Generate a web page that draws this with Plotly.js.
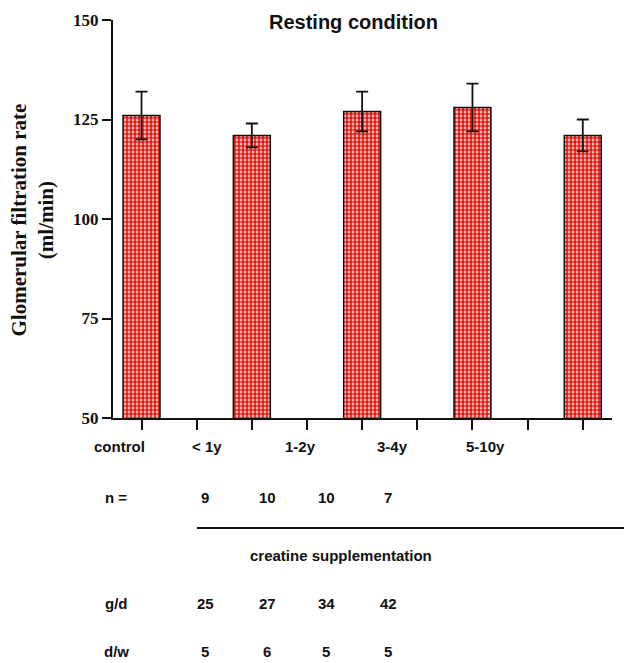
<!DOCTYPE html>
<html>
<head>
<meta charset="utf-8">
<script src="https://cdn.plot.ly/plotly-3.0.1.min.js"></script>
<style>html,body{margin:0;padding:0;background:#fff;}#chart{width:624px;height:663px;}</style>
</head>
<body>
<div id="chart"></div>
<script>
// ---- data ----
const categories = ['control', '< 1y', '1-2y', '3-4y', '5-10y'];
const gfr = [126, 121, 127, 128, 121];
const gfrErr = [6, 3, 5, 6, 4];
const yTicks = [50, 75, 100, 125, 150];
const nLabel = 'n =';
const nValues = ['9', '10', '10', '7'];
const doseLabel = 'g/d';
const doseValues = ['25', '27', '34', '42'];
const freqLabel = 'd/w';
const freqValues = ['5', '6', '5', '5'];
const groupLabel = 'creatine supplementation';
const titleText = 'Resting condition';
const yTitle = 'Glomerular filtration rate<br>(ml/min)';

// ---- layout helpers ----
const W = 624, H = 663;
const L = 113, R = 612, T = 20, B = 418;
const px = x => (x - L) / (R - L);
const py = y => (B - y) / (B - T);
const barPos = categories.map((_, i) => 2 * i);
const catLabelPx = [119, 207, 300, 392, 485];
const colPx = [205, 267, 326, 388];

const sans = 'Liberation Sans, Arial, sans-serif';
const serif = 'Liberation Serif, Times New Roman, serif';
const lblSize = 15;

const trace = {
  type: 'bar',
  x: barPos,
  y: gfr,
  base: 0,
  width: 0.67,
  marker: {
    color: '#ffffff',
    line: {color: '#111', width: 1.5},
    pattern: {shape: '.', fgcolor: '#e8150f', bgcolor: '#ffffff', size: 4, solidity: 0.7, fillmode: 'replace'}
  },
  error_y: {type: 'data', array: gfrErr, visible: true, color: '#111', thickness: 1.8, width: 6},
  hoverinfo: 'skip'
};

const ann = [];
ann.push({text: '<b>' + titleText + '</b>', xref: 'paper', yref: 'paper', x: px(353.5), y: py(22),
  xanchor: 'center', yanchor: 'middle', showarrow: false, font: {family: sans, size: 20, color: '#111'}});
ann.push({text: '<b>' + yTitle + '</b>', xref: 'paper', yref: 'paper', x: px(32.5), y: py(220),
  xanchor: 'center', yanchor: 'middle', showarrow: false, textangle: -90,
  font: {family: serif, size: 21, color: '#111'}});
categories.forEach((c, i) => ann.push({text: '<b>' + c + '</b>', xref: 'paper', yref: 'paper',
  x: px(catLabelPx[i]), y: py(446), xanchor: 'center', yanchor: 'middle', showarrow: false,
  font: {family: sans, size: lblSize, color: '#111'}}));
function row(label, vals, yPix) {
  ann.push({text: '<b>' + label + '</b>', xref: 'paper', yref: 'paper', x: px(116), y: py(yPix),
    xanchor: 'center', yanchor: 'middle', showarrow: false, font: {family: sans, size: lblSize, color: '#111'}});
  vals.forEach((v, i) => ann.push({text: '<b>' + v + '</b>', xref: 'paper', yref: 'paper',
    x: px(colPx[i]), y: py(yPix), xanchor: 'center', yanchor: 'middle', showarrow: false,
    font: {family: sans, size: lblSize, color: '#111'}}));
}
row(nLabel, nValues, 497);
row(doseLabel, doseValues, 603);
row(freqLabel, freqValues, 651);
ann.push({text: '<b>' + groupLabel + '</b>', xref: 'paper', yref: 'paper', x: px(341), y: py(555),
  xanchor: 'center', yanchor: 'middle', showarrow: false, font: {family: sans, size: lblSize, color: '#111'}});

const layout = {
  width: W, height: H,
  margin: {l: L, r: W - R, t: T, b: H - B, pad: 0},
  paper_bgcolor: '#fff', plot_bgcolor: '#fff',
  showlegend: false,
  bargap: 0,
  xaxis: {
    range: [-0.517, 8.53], showgrid: false, zeroline: false,
    showline: true, linecolor: '#111', linewidth: 2,
    tickmode: 'array', tickvals: [0, 1, 2, 3, 4, 5, 6, 7, 8], showticklabels: false,
    ticks: 'outside', ticklen: 10, tickwidth: 2, tickcolor: '#111'
  },
  yaxis: {
    range: [50, 150], showgrid: false, zeroline: false,
    showline: true, linecolor: '#111', linewidth: 2,
    tickmode: 'array', tickvals: yTicks, ticktext: yTicks.map(v => '<b>' + v + '</b>'),
    ticks: 'outside', ticklen: 9, tickwidth: 2, tickcolor: '#111',
    tickfont: {family: serif, size: 17, color: '#111'}
  },
  shapes: [{type: 'line', xref: 'paper', yref: 'paper', x0: px(197), x1: px(624), y0: py(528), y1: py(528),
    line: {color: '#111', width: 2}}],
  annotations: ann
};

Plotly.newPlot('chart', [trace], layout, {displayModeBar: false, staticPlot: true});
</script>
</body>
</html>
